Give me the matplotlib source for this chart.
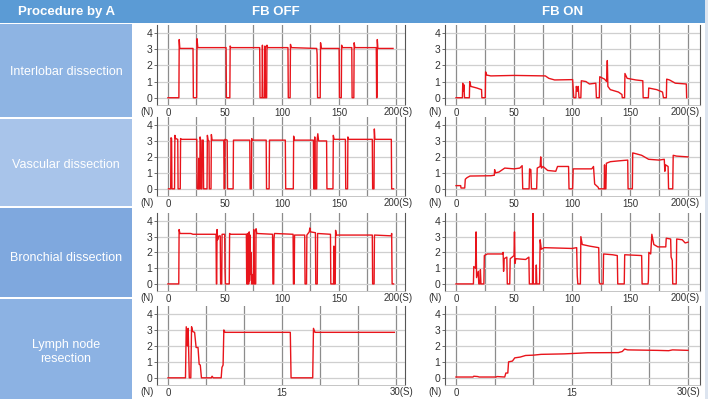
import matplotlib
matplotlib.use("Agg")
import matplotlib.pyplot as plt
from matplotlib.patches import Rectangle

plt.rcParams['font.family'] = ['Liberation Sans', 'DejaVu Sans']

# force traces, (time s, force N)
interlobar_off = [(0, 0), (9.6, 0), (9.9, 3.6), (10.4, 3.05), (22, 3.05), (22.3, 0), (25.2, 0),
                  (25.5, 3.65), (26.2, 3.1), (51, 3.1), (51.3, 0), (54.3, 0), (54.6, 3.2), (55.2, 3.1),
                  (80.5, 3.1), (80.8, 0), (82.6, 0), (82.9, 3.25), (83.3, 0), (84.8, 0), (85.1, 3.2),
                  (85.5, 0), (86.6, 0), (86.9, 3.25), (87.5, 3.1), (105.3, 3.1), (105.6, 0), (107.2, 0),
                  (107.5, 3.3), (108.2, 3.1), (130.5, 3.05), (130.9, 2.7), (131.3, 0), (133.6, 0),
                  (133.9, 3.4), (134.5, 3.05), (150.2, 3.05), (150.5, 0), (152.1, 0), (152.4, 3.25),
                  (153, 3.1), (161.3, 3.1), (161.6, 0), (163.1, 0), (163.4, 3.4), (164, 3.1),
                  (182.8, 3.1), (183.1, 0), (183.4, 0), (183.7, 3.6), (184.2, 3.05), (197.5, 3.05)]
vascular_off = [(0.5, 0), (2.4, 0), (2.7, 3.2), (3.2, 3.15), (3.5, 0), (5.8, 0), (6.1, 3.35), (6.7, 3.15),
                (8.6, 3.1), (8.9, 0), (10.8, 0), (11.1, 3.15), (11.8, 3.1), (25.3, 3.1), (25.6, 0),
                (26.8, 0), (27.1, 1.9), (27.4, 0), (27.9, 0), (28.2, 3.25), (28.7, 3.05), (29, 0),
                (29.8, 0), (30.1, 3.05), (31, 3.05), (31.3, 0), (34.3, 0), (34.6, 3.35), (35.2, 3.05),
                (36, 3.0), (36.3, 0), (37.8, 0), (38.1, 3.4), (38.7, 3.05), (49, 3.05), (49.3, 0),
                (49.7, 0), (50, 3.1), (52, 3.05), (52.3, 0), (57.2, 0), (57.5, 3.05), (71.8, 3.05),
                (72.1, 0), (73.2, 0), (73.5, 3.15), (74.2, 3.05), (86.2, 3.05), (86.5, 0), (88.8, 0),
                (89.1, 3.05), (103, 3.05), (103.3, 0), (110, 0), (110.3, 3.3), (111, 3.05),
                (127.6, 3.05), (127.9, 0), (128.5, 0), (128.8, 3.25), (129.2, 0), (130.5, 0),
                (130.8, 3.0), (131.5, 3.45), (132.2, 3.0), (139.2, 3.0), (139.5, 0), (144.8, 0),
                (145.1, 3.35), (145.8, 3.1), (155.7, 3.1), (156, 0), (157.6, 0), (157.9, 3.25),
                (158.5, 3.1), (179.3, 3.1), (179.6, 0), (180.8, 0), (181.1, 3.75), (181.6, 3.1),
                (196, 3.1), (196.3, 0), (198, 0)]
bronchial_off = [(0, 0), (9.5, 0), (9.8, 3.45), (10.5, 3.2), (20, 3.2), (22, 3.15), (42.2, 3.15),
                 (42.5, 0), (42.8, 0), (43.1, 3.45), (43.6, 2.8), (44.3, 3.0), (45, 3.05), (45.9, 3.05),
                 (46.2, 0), (47.2, 0), (47.5, 3.15), (49.8, 3.15), (50.1, 0.8), (50.4, 0), (53.8, 0),
                 (54.1, 3.2), (54.7, 3.15), (68.8, 3.15), (69.1, 0), (69.5, 0), (69.8, 3.2), (70.1, 0),
                 (70.5, 3.0), (70.8, 0), (71.3, 3.3), (71.6, 0.2), (72.1, 3.1), (72.5, 0.6), (73, 2.0),
                 (73.4, 0), (73.9, 0.6), (74.3, 0), (75, 0), (75.3, 3.45), (75.7, 0), (77, 0),
                 (77.3, 3.5), (78, 3.2), (91.8, 3.15), (92.1, 0), (92.8, 0), (93.1, 2.9), (93.5, 3.2),
                 (109.8, 3.15), (110.1, 0), (110.8, 0), (111.1, 3.1), (120, 3.1), (120.3, 0),
                 (121.6, 0), (121.9, 3.1), (124, 3.3), (124.5, 3.55), (125.2, 3.3), (129.4, 3.25),
                 (129.7, 0), (131, 0), (131.3, 3.2), (142.6, 3.15), (142.9, 0), (145.3, 0),
                 (145.6, 2.4), (146, 0), (146.8, 0), (147.1, 3.4), (147.8, 3.1), (179.3, 3.1),
                 (179.6, 0), (180.9, 0), (181.2, 3.1), (196, 3.05), (196.3, 3.2), (196.7, 0), (198, 0)]
lymph_off = [(0, 0), (2.3, 0), (2.4, 3.2), (2.55, 2.0), (2.65, 3.1), (2.8, 0), (3.0, 0), (3.1, 3.2),
             (3.25, 2.9), (3.5, 2.85), (3.7, 1.9), (3.95, 1.9), (4.1, 0.85), (4.25, 0.8), (4.4, 0),
             (5.7, 0), (5.8, 0.1), (5.95, 0), (7.0, 0), (7.1, 0.65), (7.25, 0.8), (7.35, 3.0),
             (7.5, 2.85), (16.1, 2.85), (16.2, 0), (19.05, 0), (19.15, 3.1), (19.35, 2.85), (29.8, 2.85)]

interlobar_on = [(0, 0), (5.5, 0), (5.8, 0.9), (6.3, 0.4), (6.8, 0.8), (7.3, 0), (11.5, 0), (11.8, 1.0),
                 (12.8, 0.7), (18, 0.6), (22, 0.5), (22.3, 0), (25.2, 0), (25.5, 1.6), (26.5, 1.4),
                 (30, 1.35), (50, 1.38), (77, 1.35), (80, 1.2), (85, 1.1), (100.5, 1.12), (101.5, 0),
                 (103.3, 0), (103.7, 0.7), (104.5, 0.4), (105.3, 0.7), (106, 0), (107.6, 0), (108, 1.05),
                 (112, 1.0), (115, 0.85), (120.5, 0.9), (121, 0), (123.5, 0), (123.9, 1.3), (128, 1.15),
                 (129.8, 1.0), (130.4, 2.3), (130.9, 0.7), (133, 0.5), (140, 0.35), (143, 0.2),
                 (143.3, 0), (145.3, 0), (145.6, 1.5), (147.5, 1.2), (155, 1.1), (161, 1.05), (161.3, 0),
                 (165.8, 0), (166.1, 0.6), (173, 0.5), (178, 0.35), (178.8, 0), (181.3, 0), (181.6, 1.15),
                 (184, 1.1), (189, 0.9), (198.5, 0.85), (198.8, 0)]
vascular_on = [(0, 0.2), (4, 0.2), (4.3, 0.05), (7.5, 0.05), (8, 0.6), (9.5, 0.7), (12, 0.8), (30, 0.82),
               (33, 0.85), (33.3, 1.2), (33.8, 1.0), (37, 1.05), (40, 1.2), (42, 1.3), (50, 1.25),
               (55, 1.3), (57, 1.45), (57.5, 0), (63, 0), (63.4, 1.25), (64.5, 1.2), (65, 0), (69.5, 0),
               (70, 1.3), (72.5, 1.4), (73, 2.0), (73.6, 1.3), (75, 1.4), (79, 1.15), (86, 1.1),
               (87.5, 1.4), (97, 1.4), (97.4, 0), (100.5, 0), (101, 1.25), (117, 1.25), (118.5, 1.4),
               (119.5, 0.3), (122.5, 0.1), (123, 0), (127.7, 0), (128, 1.5), (128.4, 0), (129.2, 0),
               (129.6, 1.6), (133, 1.7), (140, 1.75), (148, 1.8), (148.3, 0), (152, 0), (152.3, 2.25),
               (155, 2.2), (160, 2.1), (166, 1.85), (175, 1.8), (179.5, 1.85), (180, 1.1), (180.6, 1.5),
               (182.8, 1.4), (183.2, 0), (186.8, 0), (187.2, 2.1), (190, 2.05), (200, 2.0)]
bronchial_on = [(0, 0), (15, 0), (15.3, 1.1), (16.8, 1.0), (17.3, 3.3), (17.7, 0.4), (19.2, 0.8),
                (19.6, 0), (20.6, 0), (21, 0.9), (21.5, 0), (24, 0), (24.4, 1.8), (27, 1.9), (40, 1.9),
                (40.6, 2.0), (41, 0.8), (41.5, 1.6), (43.8, 1.7), (44.2, 0), (46.3, 0), (46.7, 1.6),
                (50, 1.8), (50.4, 3.3), (50.8, 1.3), (51.5, 1.6), (60, 1.55), (62.8, 1.7), (63.2, 0),
                (65.9, 0), (66.2, 4.5), (66.6, 0), (68.8, 0), (69.2, 1.2), (69.6, 0), (72, 0),
                (72.5, 2.8), (73.5, 2.2), (76, 2.3), (100, 2.25), (104, 2.3), (104.5, 0.5), (105, 0),
                (107.2, 0), (107.6, 3.0), (108.8, 2.5), (115, 2.4), (123, 2.3), (123.5, 0.1),
                (124.2, 0), (126.8, 0), (127.2, 1.9), (135, 1.85), (139, 1.8), (139.4, 0), (145, 0),
                (145.4, 1.85), (160, 1.8), (160.4, 0), (165.5, 0), (165.8, 0.2), (166.2, 2.0),
                (167.8, 1.9), (168.8, 3.15), (170.5, 2.5), (174, 2.35), (180.8, 2.35), (181.2, 2.9),
                (185, 2.85), (185.4, 1.7), (186.4, 1.5), (186.8, 0), (189.8, 0), (190.2, 2.85),
                (195, 2.8), (197.5, 2.6), (200, 2.65)]
lymph_on = [(0, 0.05), (2.2, 0.05), (2.3, 0.1), (2.8, 0.08), (3.0, 0.05), (5.2, 0.05), (5.3, 0.08),
            (6.3, 0.05), (6.45, 0.3), (6.7, 0.3), (6.8, 1.0), (7.3, 1.05), (7.6, 1.25), (8.3, 1.3),
            (9.0, 1.4), (10, 1.42), (11, 1.47), (14, 1.5), (16.2, 1.55), (17, 1.57), (21, 1.58),
            (21.5, 1.65), (21.8, 1.8), (22.2, 1.75), (26, 1.72), (27.5, 1.7), (28, 1.75), (30, 1.72)]

row_labels = ["Interlobar dissection", "Vascular dissection", "Bronchial dissection", "Lymph node\nresection"]
col_labels = ["FB OFF", "FB ON"]
durations = [200, 200, 200, 30]
series = [[interlobar_off, interlobar_on], [vascular_off, vascular_on],
          [bronchial_off, bronchial_on], [lymph_off, lymph_on]]

W, H = 708, 399
fig = plt.figure(figsize=(W / 100, H / 100), dpi=100)


def rect(x0, y0, x1, y1, color):
    fig.add_artist(Rectangle((x0 / W, 1 - y1 / H), (x1 - x0) / W, (y1 - y0) / H,
                             transform=fig.transFigure, facecolor=color, edgecolor='none', zorder=0))


def ftext(x, y, s, **kw):
    fig.text(x / W, 1 - y / H, s, ha='center', va='center', color='white', **kw)


# header and left column
rect(0, 0, 705, 23, '#5B9BD5')
rect(705, 0, 708, H, '#DCE4EF')
ftext(67, 12, "Procedure by A", fontsize=9.5, fontweight='bold')
ftext(276, 12, col_labels[0], fontsize=9.5, fontweight='bold')
ftext(563, 12, col_labels[1], fontsize=9.5, fontweight='bold')

cell_rows = [(24, 117), (119, 206), (208, 297), (299, 399)]
cell_colors = ['#8EB4E3', '#A8C4EA', '#7FA8DE', '#8CB2E3']
label_y = [72, 165, 258, 352]
for (y0, y1), c, ly, lab in zip(cell_rows, cell_colors, label_y, row_labels):
    rect(0, y0, 132, y1, c)
    ftext(66, ly, lab, fontsize=9, linespacing=1.3)

axes_rows = [(25, 105), (117, 196), (213, 291), (306, 385)]
axes_cols = [(157, 405), (445, 700)]
xlims = {200: [(-9.6, 208), (-9.5, 210.3)], 30: [(-1.45, 31.2), (-1.42, 31.55)]}
end_label_dx = [5.8, 0.0]  # points, right edge of "200(S)" past the axes edge

for r, (top, bot) in enumerate(axes_rows):
    dur = durations[r]
    for c, (left, right) in enumerate(axes_cols):
        ax = fig.add_axes([left / W, 1 - bot / H, (right - left) / W, (bot - top) / H])
        data = series[r][c]
        t = [p[0] for p in data]
        f = [p[1] for p in data]
        ax.plot(t, f, color='#E8141B', lw=1.0, zorder=3)
        ax.set_xlim(*xlims[dur][c])
        ax.set_ylim(-0.45, 4.5)

        step = 25 if dur == 200 else 5
        for gx in range(0, dur + 1, step):
            ax.axvline(gx, color='#8C8C8C', lw=0.9, zorder=1)
        for gy in range(5):
            ax.axhline(gy, color='#CFCFCF', lw=0.9, zorder=1)

        ax.set_yticks(range(5))
        ax.tick_params(axis='y', length=2, width=0.6, pad=1.5, labelsize=7.5,
                       color='#555555', labelcolor='#333333')
        lab_step = 50 if dur == 200 else 15
        xt = list(range(0, dur, lab_step))
        ax.set_xticks(xt)
        ax.set_xticklabels([str(v) for v in xt])
        ax.tick_params(axis='x', length=0, pad=2, labelsize=7, labelcolor='#333333')
        ax.annotate(f'{dur}(S)', xy=(1, 0), xycoords='axes fraction',
                    xytext=(end_label_dx[c], -1.5), textcoords='offset points', ha='right', va='top',
                    fontsize=7, color='#333333')
        ax.annotate('(N)', xy=(0, 0), xycoords='axes fraction',
                    xytext=(-2.5, -1.5), textcoords='offset points', ha='right', va='top',
                    fontsize=7, color='#333333')

        for s in ['left', 'right']:
            ax.spines[s].set_color('#555555')
            ax.spines[s].set_linewidth(0.8)
        ax.spines['bottom'].set_color('#BBBBBB')
        ax.spines['bottom'].set_linewidth(0.6)
        ax.spines['top'].set_visible(False)
        ax.set_facecolor('white')

fig.savefig('out.png', dpi=100)
